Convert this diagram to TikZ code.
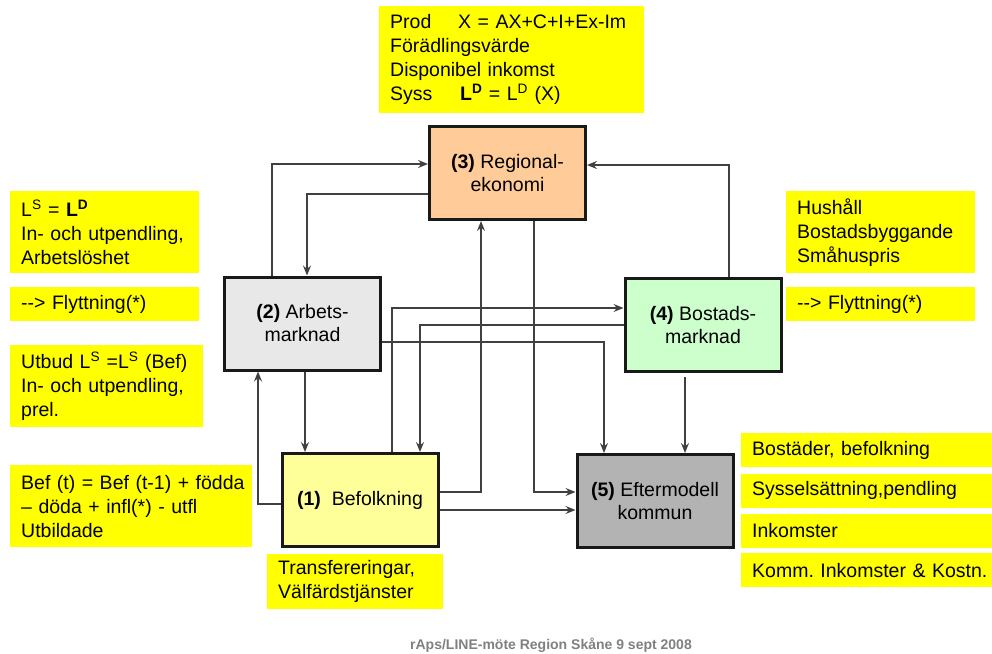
\documentclass[tikz,border=0pt]{standalone}
\usepackage{fontspec}
\setmainfont{Liberation Sans}
\usepackage{xcolor}
\usepackage{tikz}
\usetikzlibrary{arrows.meta,calc,positioning}
\frenchspacing
\definecolor{anmgul}{HTML}{FFFF00}
\definecolor{regfarg}{HTML}{FFCC99}
\definecolor{arbfarg}{HTML}{E8E8E8}
\definecolor{bosfarg}{HTML}{CCFFCC}
\definecolor{beffarg}{HTML}{FFFF99}
\definecolor{eftfarg}{HTML}{B3B3B3}
\tikzset{modul style/.style={draw=black!90,line width=3pt,minimum width=156pt,minimum height=93pt,align=center,inner sep=0pt,font=\fontsize{19.5}{23}\selectfont},
	anm style/.style={fill=anmgul,anchor=north west,align=left,inner xsep=11pt,inner ysep=0pt,font=\fontsize{19.5}{24}\selectfont}}

\begin{document}
\begin{tikzpicture}[x=1pt,y=-1pt,>={Stealth[length=10pt,width=8pt,inset=3.5pt]}]
	\tikzstyle{pil}=[->,line width=1.4pt,draw=black!75]
	\useasboundingbox (0,0) rectangle (992,653);

	\node[modul style,fill=regfarg] (reg) at (507.5,173) {\textbf{(3)} Regional-\\ekonomi};
	\node[modul style,fill=arbfarg] (arb) at (302.5,323.5) {\textbf{(2)} Arbets-\\marknad};
	\node[modul style,fill=bosfarg] (bos) at (703,325) {\textbf{(4)} Bostads-\\marknad};
	\node[modul style,fill=beffarg] (bef) at (360,500) {\textbf{(1)}\ \ Befolkning};
	\node[modul style,fill=eftfarg] (eft) at (655,501) {\textbf{(5)} Eftermodell\\kommun};

	% anteckningar
	\node[anm style,text width=243pt,minimum height=107pt] (prod) at (379,6)
	{\makebox[68pt][l]{Prod}X = AX+C+I+Ex-Im\\Förädlingsvärde\\Disponibel inkomst\\\makebox[70pt][l]{Syss}\textbf{L\textsuperscript{D}} = L\textsuperscript{D} (X)};
	\node[anm style,text width=167pt,minimum height=82pt] (ls) at (10,191)
	{L\textsuperscript{S} = \textbf{L\textsuperscript{D}}\\In- och utpendling,\\Arbetslöshet};
	\node[anm style,text width=167pt,minimum height=34pt] (flyttv) at (10,287) {-{}-> Flyttning(*)};
	\node[anm style,text width=171pt,minimum height=82pt] (utbud) at (10,345)
	{Utbud L\textsuperscript{S} =L\textsuperscript{S} (Bef)\\In- och utpendling,\\prel.};
	\node[anm style,text width=220pt,minimum height=82pt] (befekv) at (10,465)
	{\mbox{Bef (t) = Bef (t-1) + födda}\\– döda + infl(*) - utfl\\Utbildade};
	\node[anm style,text width=167pt,minimum height=82pt] (hush) at (786,191)
	{Hushåll\\Bostadsbyggande\\Småhuspris};
	\node[anm style,text width=167pt,minimum height=34pt] (flytth) at (786,287) {-{}-> Flyttning(*)};
	\node[anm style,text width=229pt,minimum height=34pt] (ut1) at (741,433) {Bostäder, befolkning};
	\node[anm style,text width=229pt,minimum height=34pt,below=6pt of ut1.south west,anchor=north west] (ut2) {Sysselsättning,pendling};
	\node[anm style,text width=229pt,minimum height=34pt,below=6pt of ut2.south west,anchor=north west] (ut3) {Inkomster};
	\node[anm style,text width=229pt,minimum height=34pt,below=5pt of ut3.south west,anchor=north west] (ut4) {\mbox{Komm. Inkomster \& Kostn.}};
	\node[anm style,text width=154pt,minimum height=55pt] (transf) at (267,554)
	{Transfereringar,\\Välfärdstjänster};

	\node[font=\bfseries\fontsize{14}{16}\selectfont,text=black!50] (fot) at (551,645)
	{rAps/LINE-möte Region Skåne 9 sept 2008};

	% pilar
	\draw[pil] ([xshift=-30.5pt]arb.north) |- ([yshift=9pt]reg.west);
	\draw[pil] ([yshift=-21pt]reg.west) -| ([xshift=4.5pt]arb.north);
	\draw[pil] ([xshift=26pt]bos.north) |- ([yshift=8pt]reg.east);
	\draw[pil] ([xshift=32pt]bef.north) |- ([yshift=17pt]bos.west);
	\draw[pil] (bos.west) -| ([xshift=60pt]bef.north);
	\draw[pil] ([yshift=-18.5pt]arb.east) -| ([xshift=-51pt]eft.north);
	\draw[pil] ([yshift=8pt]bef.east) -| ([xshift=-26.5pt]reg.south);
	\draw[pil] ([xshift=26.5pt]reg.south) |- ([yshift=9pt]eft.west);
	\draw[pil] ([yshift=-10pt]bef.east) -- ([yshift=-10pt]bef.east -| eft.west);
	\draw[pil,shorten <=4pt] ([xshift=-18pt]bos.south) -- ([xshift=-18pt]bos.south |- eft.north);
	\draw[pil] ([yshift=-4pt]bef.west) -| ([xshift=-44.5pt]arb.south);
	\draw[pil] ([xshift=2.5pt]arb.south) -- ([xshift=2.5pt]arb.south |- bef.north);
\end{tikzpicture}
\end{document}
